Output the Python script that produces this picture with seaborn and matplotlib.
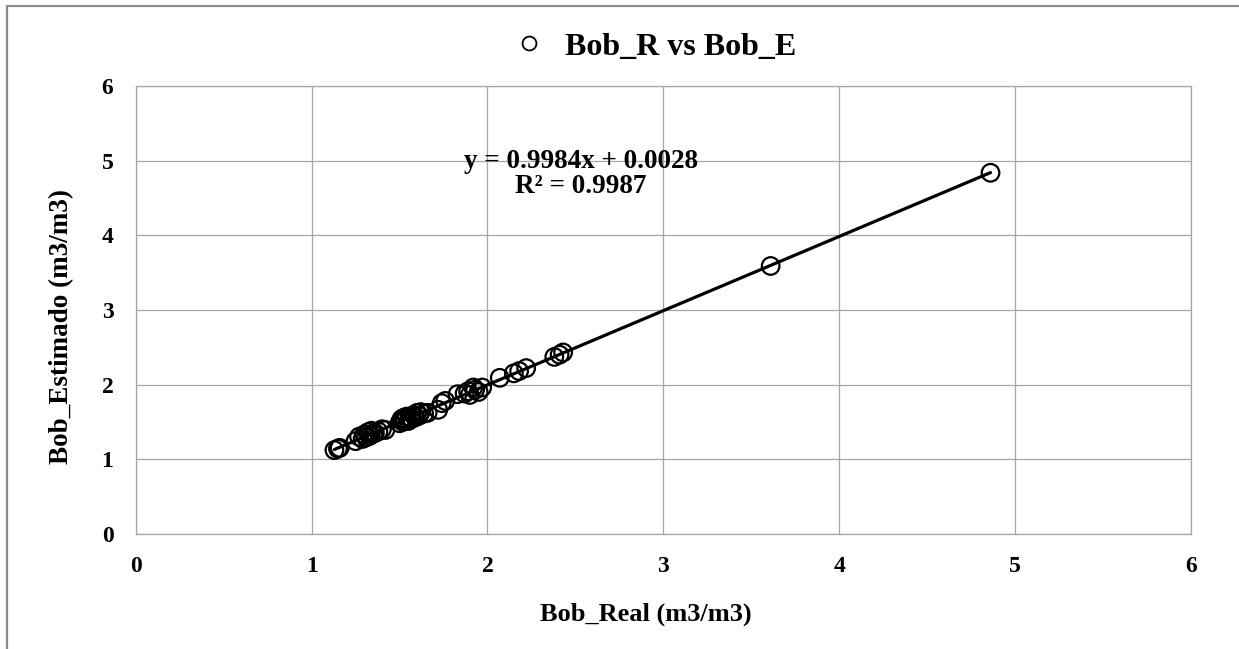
import matplotlib
matplotlib.use("Agg")
import matplotlib.pyplot as plt
from matplotlib.lines import Line2D
from matplotlib.patches import Rectangle
import pandas as pd
import seaborn as sns

# measured vs estimated oil formation volume factor
bob_real = [1.13, 1.15, 1.16,
            1.25, 1.27, 1.29, 1.30, 1.31, 1.32, 1.33, 1.34, 1.35, 1.36, 1.38, 1.40, 1.42,
            1.50, 1.51, 1.52, 1.52, 1.53, 1.54, 1.55, 1.56, 1.57, 1.58, 1.59, 1.60, 1.61, 1.62, 1.64,
            1.66, 1.72, 1.74, 1.76,
            1.83, 1.87, 1.89, 1.90, 1.92, 1.93, 1.95, 1.97,
            2.07, 2.15, 2.18, 2.22,
            2.38, 2.41, 2.43,
            3.61, 4.86]
bob_est = [1.12, 1.14, 1.15,
           1.24, 1.30, 1.27, 1.33, 1.29, 1.36, 1.31, 1.38, 1.34, 1.35, 1.37, 1.40, 1.39,
           1.48, 1.53, 1.50, 1.55, 1.52, 1.57, 1.51, 1.56, 1.54, 1.59, 1.56, 1.62, 1.58, 1.63, 1.61,
           1.62, 1.66, 1.75, 1.78,
           1.87, 1.88, 1.91, 1.86, 1.96, 1.93, 1.90, 1.96,
           2.09, 2.15, 2.18, 2.22,
           2.37, 2.40, 2.43,
           3.59, 4.84]
ticks = [0, 1, 2, 3, 4, 5, 6]
series_name = "Bob_R vs Bob_E"
fit_text = "y = 0.9984x + 0.0028\nR² = 0.9987"

df = pd.DataFrame({"real": bob_real, "est": bob_est})

sns.set_style("whitegrid")
plt.rcParams['font.family'] = ['Liberation Serif', 'DejaVu Serif']
plt.rcParams['font.weight'] = 'bold'
for key in ['text.color', 'axes.labelcolor', 'xtick.labelcolor', 'ytick.labelcolor']:
    plt.rcParams[key] = 'black'

fig = plt.figure(figsize=(12.39, 6.49), dpi=100)
ax = fig.add_axes([0.1095, 0.1778, 0.9613 - 0.1095, 0.867 - 0.1778])

# trend line over the data range
sns.regplot(data=df, x="real", y="est", scatter=False, ci=None, truncate=True,
            line_kws={"color": "black", "lw": 2.3}, ax=ax)
sns.scatterplot(data=df, x="real", y="est", marker="o", s=160,
                facecolor="none", edgecolor="black", linewidth=1.6, ax=ax, zorder=3)

ax.set_xlim(0, 6)
ax.set_ylim(0, 6)
ax.set_xticks(ticks)
ax.set_yticks(ticks)
ax.grid(True, color="#a6a6a6", lw=0.9)
for sp in ax.spines.values():
    sp.set_color("#a6a6a6")
    sp.set_linewidth(0.9)
ax.tick_params(axis="both", length=0, labelsize=17, labelcolor="black")
ax.tick_params(axis="x", pad=16)
ax.tick_params(axis="y", pad=16)
ax.set_xlabel("Bob_Real (m3/m3)", fontsize=19, fontweight="bold", color="black")
ax.set_ylabel("Bob_Estimado (m3/m3)", fontsize=19.5, fontweight="bold", color="black")
ax.xaxis.set_label_coords(0.483, -0.155)
ax.yaxis.set_label_coords(-0.058, 0.462)

ax.text(2.53, 4.82, fit_text, ha="center", va="center", fontsize=19.5,
        fontweight="bold", linespacing=1.0, multialignment="center", color="black")

handle = Line2D([], [], marker="o", ls="none", mfc="none", mec="black",
                ms=10, mew=1.3)
leg = ax.legend([handle], [series_name], loc="center", bbox_to_anchor=(0.522, 0.9276),
                bbox_transform=fig.transFigure, frameon=False,
                prop={"weight": "bold", "size": 23}, handletextpad=0.15)
for t in leg.get_texts():
    t.set_color("black")

# outer chart border
fig.patches.append(Rectangle((7 / 1239, -0.05), 1.1, 0.9908 + 0.05,
                             transform=fig.transFigure, fill=False,
                             ec="#8c8c8c", lw=1.6))

fig.savefig("out.png", dpi=100)
